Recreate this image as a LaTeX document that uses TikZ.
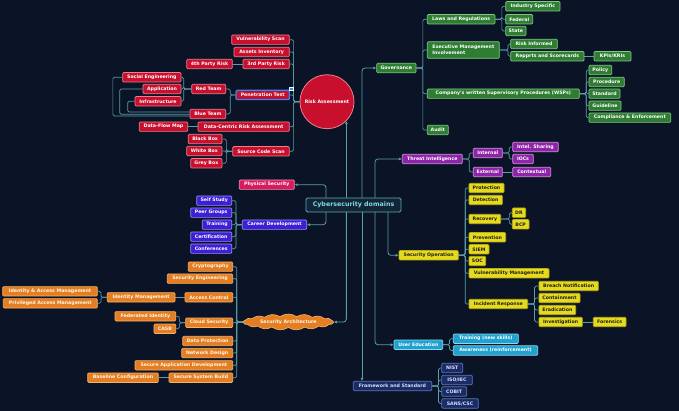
\documentclass[tikz,border=0pt]{standalone}
\usepackage{fontspec}
\usetikzlibrary{arrows.meta,shapes.symbols,backgrounds}
\newfontfamily\mmfont{DejaVu Sans}
\definecolor{bgc}{HTML}{0B1327}
\definecolor{linec}{HTML}{5A9EA8}
\definecolor{rfill}{HTML}{C8102E}\definecolor{rborder}{HTML}{E9808F}
\definecolor{gfill}{HTML}{2E7D32}\definecolor{gborder}{HTML}{81C784}
\definecolor{pfill}{HTML}{8E24AA}\definecolor{pborder}{HTML}{CE93D8}
\definecolor{yfill}{HTML}{E5DA1E}\definecolor{yborder}{HTML}{B8AE10}\definecolor{ytext}{HTML}{1E1E1E}
\definecolor{cfill}{HTML}{1FA2D0}\definecolor{cborder}{HTML}{8ED8F2}
\definecolor{nfill}{HTML}{1A2B66}\definecolor{nborder}{HTML}{5B77B8}\definecolor{ntext}{HTML}{D8E0FF}
\definecolor{vfill}{HTML}{3D1FD6}\definecolor{vborder}{HTML}{9A8CF5}
\definecolor{pkfill}{HTML}{D81B60}\definecolor{pkborder}{HTML}{F48FB1}
\definecolor{ofill}{HTML}{E57E22}\definecolor{oborder}{HTML}{F6B26B}\definecolor{otext}{HTML}{FFF6E8}
\definecolor{ccfill}{HTML}{132436}\definecolor{ccborder}{HTML}{5AAAB5}\definecolor{cctext}{HTML}{7FD9E3}
\definecolor{selblue}{HTML}{2F8CFF}
\pgfdeclarelayer{bgl}
\pgfsetlayers{bgl,background,main}
\newcommand\mmbox[6]{%
 \pgfmathsetmacro\mmw{#4-#3}%
 \pgfmathsetmacro\mmx{(#3+#4)/2}%
 \node[box,#1,minimum width=\mmw pt] (#2) at (\mmx,#5) {#6};}
\newcommand\mmR[2]{\foreach \c in {#2}{\draw[conn] (#1.east) -- ++(6.5,0) |- (\c.west);}}
\newcommand\mmL[2]{\foreach \c in {#2}{\draw[conn] (#1.west) -- ++(-6,0) |- (\c.east);}}
\tikzset{
 box/.style={rectangle, rounded corners=1pt, line width=0.7pt, minimum height=9.4pt, inner xsep=1pt, inner ysep=0.5pt,
   font=\mmfont\bfseries\fontsize{4.7}{5.8}\selectfont},
 red/.style={fill=rfill, draw=rborder, text=white},
 grn/.style={fill=gfill, draw=gborder, text=white},
 pur/.style={fill=pfill, draw=pborder, text=white},
 yel/.style={fill=yfill, draw=yborder, text=ytext},
 cyn/.style={fill=cfill, draw=cborder, text=white},
 nav/.style={fill=nfill, draw=nborder, text=ntext},
 vio/.style={fill=vfill, draw=vborder, text=white},
 pnk/.style={fill=pkfill, draw=pkborder, text=white},
 org/.style={fill=ofill, draw=oborder, text=otext},
 conn/.style={draw=linec, line width=0.7pt, rounded corners=1.5pt},
 mainc/.style={draw=linec, line width=0.8pt, rounded corners=3pt, -{Latex[length=3pt,width=3pt]}},
}
\begin{document}
\begin{tikzpicture}[x=1pt,y=-1pt]
\useasboundingbox (0,0) rectangle (679,411);
\begin{pgfonlayer}{bgl}
\fill[bgc] (0,0) rectangle (679,411);
\end{pgfonlayer}

% center
\node[fill=ccfill, draw=ccborder, line width=0.9pt, rounded corners=1.5pt, minimum width=95pt, minimum height=14pt, inner sep=0pt,
  text=cctext, font=\mmfont\bfseries\fontsize{6.3}{7}\selectfont] (cd) at (353.5,205) {Cybersecurity domains};

% Risk assessment
\node[circle, fill=rfill, draw=rborder, line width=0.8pt, minimum size=54pt, inner sep=0pt, text=white,
  font=\mmfont\bfseries\fontsize{4.7}{5.8}\selectfont] (ra) at (327,101.7) {Risk Assessment};
\mmbox{red}{vs}{231.7}{289.3}{39.7}{Vulnerability Scan}
\mmbox{red}{ai}{234}{289.3}{52}{Assets Inventory}
\mmbox{red}{tpr}{243}{289.3}{64}{3rd Party Risk}
\mmbox{red}{fpr}{186.7}{232.3}{64}{4th Party Risk}
\mmbox{red,draw=selblue,line width=1.1pt}{pt}{236}{289.3}{95}{Penetration Test}
\node[fill=selblue, draw=white, line width=0.3pt, minimum size=3.2pt, inner sep=0pt] (ptm) at ([shift={(1.2,-1.2)}]pt.north east) {};
\mmbox{red}{rt}{191.7}{225.7}{89}{Red Team}
\mmbox{red}{bt}{190}{225.7}{114}{Blue Team}
\mmbox{red}{se}{122.7}{181}{77.3}{Social Engineering}
\mmbox{red}{app}{143}{181}{89}{Application}
\mmbox{red}{inf}{135}{181}{101.3}{Infrastructure}
\mmbox{red}{dcra}{198}{289.3}{126.7}{Data-Centric Risk Assessment}
\mmbox{red}{dfm}{139.3}{187.7}{126.7}{Data-Flow Map}
\mmbox{red}{scs}{232.7}{289.3}{151.3}{Source Code Scan}
\mmbox{red}{bb}{188.3}{222}{139}{Black Box}
\mmbox{red}{wb}{186.7}{222}{151}{White Box}
\mmbox{red}{gb}{190.7}{222}{163.3}{Grey Box}

% Governance
\mmbox{grn}{gov}{376.7}{416}{68}{Governance}
\mmbox{grn}{lr}{427.3}{495}{19.3}{Laws and Regulations}
\mmbox{grn}{isp}{505.7}{560}{6.3}{Industry Specific}
\mmbox{grn}{fed}{505.7}{532.7}{19.3}{Federal}
\mmbox{grn}{st}{505.7}{526}{31}{State}
\mmbox{grn,align=left,minimum height=16.6pt,inner xsep=2pt}{emi}{427.3}{499.3}{50}{Executive Management\\Involvement}
\mmbox{grn}{ri}{510.7}{557.3}{44}{Risk Informed}
\mmbox{grn}{rs}{510.7}{584}{56.3}{Repprts and Scorecards}
\mmbox{grn}{kpi}{594}{631}{56.3}{KPIs/KRIs}
\mmbox{grn}{wsp}{427.3}{579.3}{93.7}{Company's written Supervisory Procedures (WSPs)}
\mmbox{grn}{pol}{589}{611.7}{70}{Policy}
\mmbox{grn}{pro}{589}{624.3}{82}{Procedure}
\mmbox{grn}{std}{589}{620}{93.7}{Standard}
\mmbox{grn}{gl}{589}{621}{105.7}{Guideline}
\mmbox{grn}{ce}{589}{670.7}{117.7}{Compliance \& Enforcement}
\mmbox{grn}{aud}{427.3}{448.3}{130}{Audit}

% Threat intelligence
\mmbox{pur}{ti}{402.3}{462.3}{159}{Threat Intelligence}
\mmbox{pur}{int}{473.3}{502.3}{153}{Internal}
\mmbox{pur}{ext}{473.3}{502.3}{172}{External}
\mmbox{pur}{ish}{512.7}{558.3}{147}{Intel. Sharing}
\mmbox{pur}{ioc}{512.7}{533.3}{159}{IOCs}
\mmbox{pur}{ctx}{512.7}{550.7}{172}{Contextual}

% Security operation
\mmbox{yel}{so}{399}{458.3}{255.3}{Security Operation}
\mmbox{yel}{prot}{469}{504}{188}{Protection}
\mmbox{yel}{det}{469}{502.3}{200}{Detection}
\mmbox{yel}{rec}{469}{500.7}{219}{Recovery}
\mmbox{yel}{dr}{512.3}{525.7}{212.7}{DR}
\mmbox{yel}{bcp}{512.3}{529}{224.3}{BCP}
\mmbox{yel}{prev}{469}{505.7}{237.3}{Prevention}
\mmbox{yel}{siem}{469}{489}{249.3}{SIEM}
\mmbox{yel}{soc}{469}{485.7}{261}{SOC}
\mmbox{yel}{vm}{469}{549}{273.3}{Vulnerability Management}
\mmbox{yel}{ir}{469}{527.7}{304}{Incident Response}
\mmbox{yel}{bn}{539}{598.3}{286}{Breach Notification}
\mmbox{yel}{con}{539}{580}{298}{Containment}
\mmbox{yel}{era}{539}{575.7}{310}{Eradication}
\mmbox{yel}{inv}{539}{582.3}{322}{Investigation}
\mmbox{yel}{fore}{593.3}{626}{322}{Forensics}

% User education
\mmbox{cyn}{ue}{394}{442.7}{344.7}{User Education}
\mmbox{cyn}{tns}{453.3}{518.3}{338.7}{Training (new skills)}
\mmbox{cyn}{awr}{453.3}{537.7}{350.5}{Awareness (reinforcement)}

% Framework
\mmbox{nav}{fw}{353.3}{431.7}{386}{Framework and Standard}
\mmbox{nav}{nist}{441.7}{462.7}{368}{NIST}
\mmbox{nav}{iso}{441.7}{472.3}{380}{ISO/IEC}
\mmbox{nav}{cob}{441.7}{466.7}{391.5}{COBIT}
\mmbox{nav}{sans}{441.7}{478.3}{403.5}{SANS/CSC}

% Physical / career
\mmbox{pnk}{ps}{239.3}{294.3}{184.7}{Physical Security}
\mmbox{vio}{cdv}{242.3}{306.7}{224.7}{Career Development}
\mmbox{vio}{ss}{196.7}{231.7}{200.7}{Self Study}
\mmbox{vio}{pg}{190.7}{231.7}{212.7}{Peer Groups}
\mmbox{vio}{trn}{202.3}{231.7}{224.7}{Training}
\mmbox{vio}{cert}{190.7}{231.7}{236.7}{Certification}
\mmbox{vio}{conf}{190.7}{231.7}{248.7}{Conferences}

% Security architecture
\node[cloud, cloud puffs=17, cloud puff arc=70, cloud ignores aspect, minimum width=90pt, minimum height=16pt, inner sep=0pt,
  fill=ofill, draw=oborder, line width=0.6pt, text=otext, font=\mmfont\bfseries\fontsize{4.7}{5.8}\selectfont] (sa) at (288.3,322) {Security Architecture};
\mmbox{org}{cry}{188.3}{232.7}{266.7}{Cryptography}
\mmbox{org}{seng}{167.3}{232.7}{278.7}{Security Engineering}
\mmbox{org}{ac}{185}{232.7}{297.3}{Access Control}
\mmbox{org}{idm}{107.3}{175}{297.3}{Identity Management}
\mmbox{org}{iam}{2.7}{97.3}{291.3}{Identity \& Access Management}
\mmbox{org}{pam}{3.3}{97.3}{303.3}{Privileged Access Management}
\mmbox{org}{cs}{185.7}{232.7}{322.7}{Cloud Security}
\mmbox{org}{fid}{115}{175.7}{316.3}{Federated Identity}
\mmbox{org}{casb}{154}{175.7}{328.7}{CASB}
\mmbox{org}{dp}{182.7}{232.7}{341}{Data Protection}
\mmbox{org}{nd}{181.7}{232.7}{353}{Network Design}
\mmbox{org}{sad}{135}{232.7}{365.3}{Secure Application Development}
\mmbox{org}{ssb}{169}{232.7}{377.7}{Secure System Build}
\mmbox{org}{bc}{87.7}{158.3}{377.7}{Baseline Configuration}

\begin{pgfonlayer}{background}
% main connectors
\coordinate (k1) at (326,205);
\coordinate (k2) at (ra.-45 |- cd.center);
\coordinate (k3) at (362,205);
\coordinate (k4) at (375,205);
\coordinate (k5) at (388,205);
\draw[mainc] (k1) |- (ps.east);
\draw[mainc] (k1) |- (cdv.east);
\draw[mainc] (k2) -- (ra.-45);
\draw[mainc] (k2) |- (sa.east);
\draw[mainc] (k3) |- (gov.west);
\draw[mainc] (k3) -- (k3 |- fw.north);
\draw[mainc] (k4) |- (ti.west);
\draw[mainc] (k4) |- (ue.west);
\draw[mainc] (k5) |- (so.west);
% risk
\mmL{ra}{vs,ai,tpr,pt,dcra,scs}
\draw[conn] (tpr.west) -- (fpr.east);
\draw[conn] (dcra.west) -- (dfm.east);
\foreach \c in {rt,bt}{\draw[conn] (pt.west) -- ++(-5.3,0) |- (\c.east);}
\foreach \c in {se,app,inf}{\draw[conn] (rt.west) -- ++(-7.7,0) |- (\c.east);}
\mmL{scs}{bb,wb,gb}
\draw[conn] (se.west) -- ++(-9.5,0) |- ([yshift=-2pt]bt.west);
\draw[conn] (app.west) -- ++(-23,0) |- ([yshift=-0.3pt]bt.west);
\draw[conn] (inf.west) -- ++(-7,0) |- ([yshift=2pt]bt.west);
% governance
\mmR{gov}{lr,emi,wsp,aud}
\mmR{lr}{isp,fed,st}
\foreach \c in {ri,rs}{\draw[conn] (emi.east) -- ++(8.4,0) |- (\c.west);}
\draw[conn] (rs.east) -- (kpi.west);
\mmR{wsp}{pol,pro,std,gl,ce}
% threat intel
\mmR{ti}{int,ext}
\mmR{int}{ish,ioc}
\draw[conn] (ext.east) -- (ctx.west);
% secop
\mmR{so}{prot,det,rec,prev,siem,soc,vm,ir}
\foreach \c in {dr,bcp}{\draw[conn] (rec.east) -- ++(8.3,0) |- (\c.west);}
\mmR{ir}{bn,con,era,inv}
\draw[conn] (inv.east) -- (fore.west);
% user ed, framework
\mmR{ue}{tns,awr}
\mmR{fw}{nist,iso,cob,sans}
% career
\mmL{cdv}{ss,pg,trn,cert,conf}
% security architecture
\foreach \c in {cry,seng,ac,cs,dp,nd,sad,ssb}{\draw[conn] (sa.west) -- ++(-6,0) |- (\c.east);}
\draw[conn] (ac.west) -- (idm.east);
\mmL{idm}{iam,pam}
\mmL{cs}{fid,casb}
\draw[conn] (ssb.west) -- (bc.east);
\end{pgfonlayer}
\end{tikzpicture}
\end{document}
